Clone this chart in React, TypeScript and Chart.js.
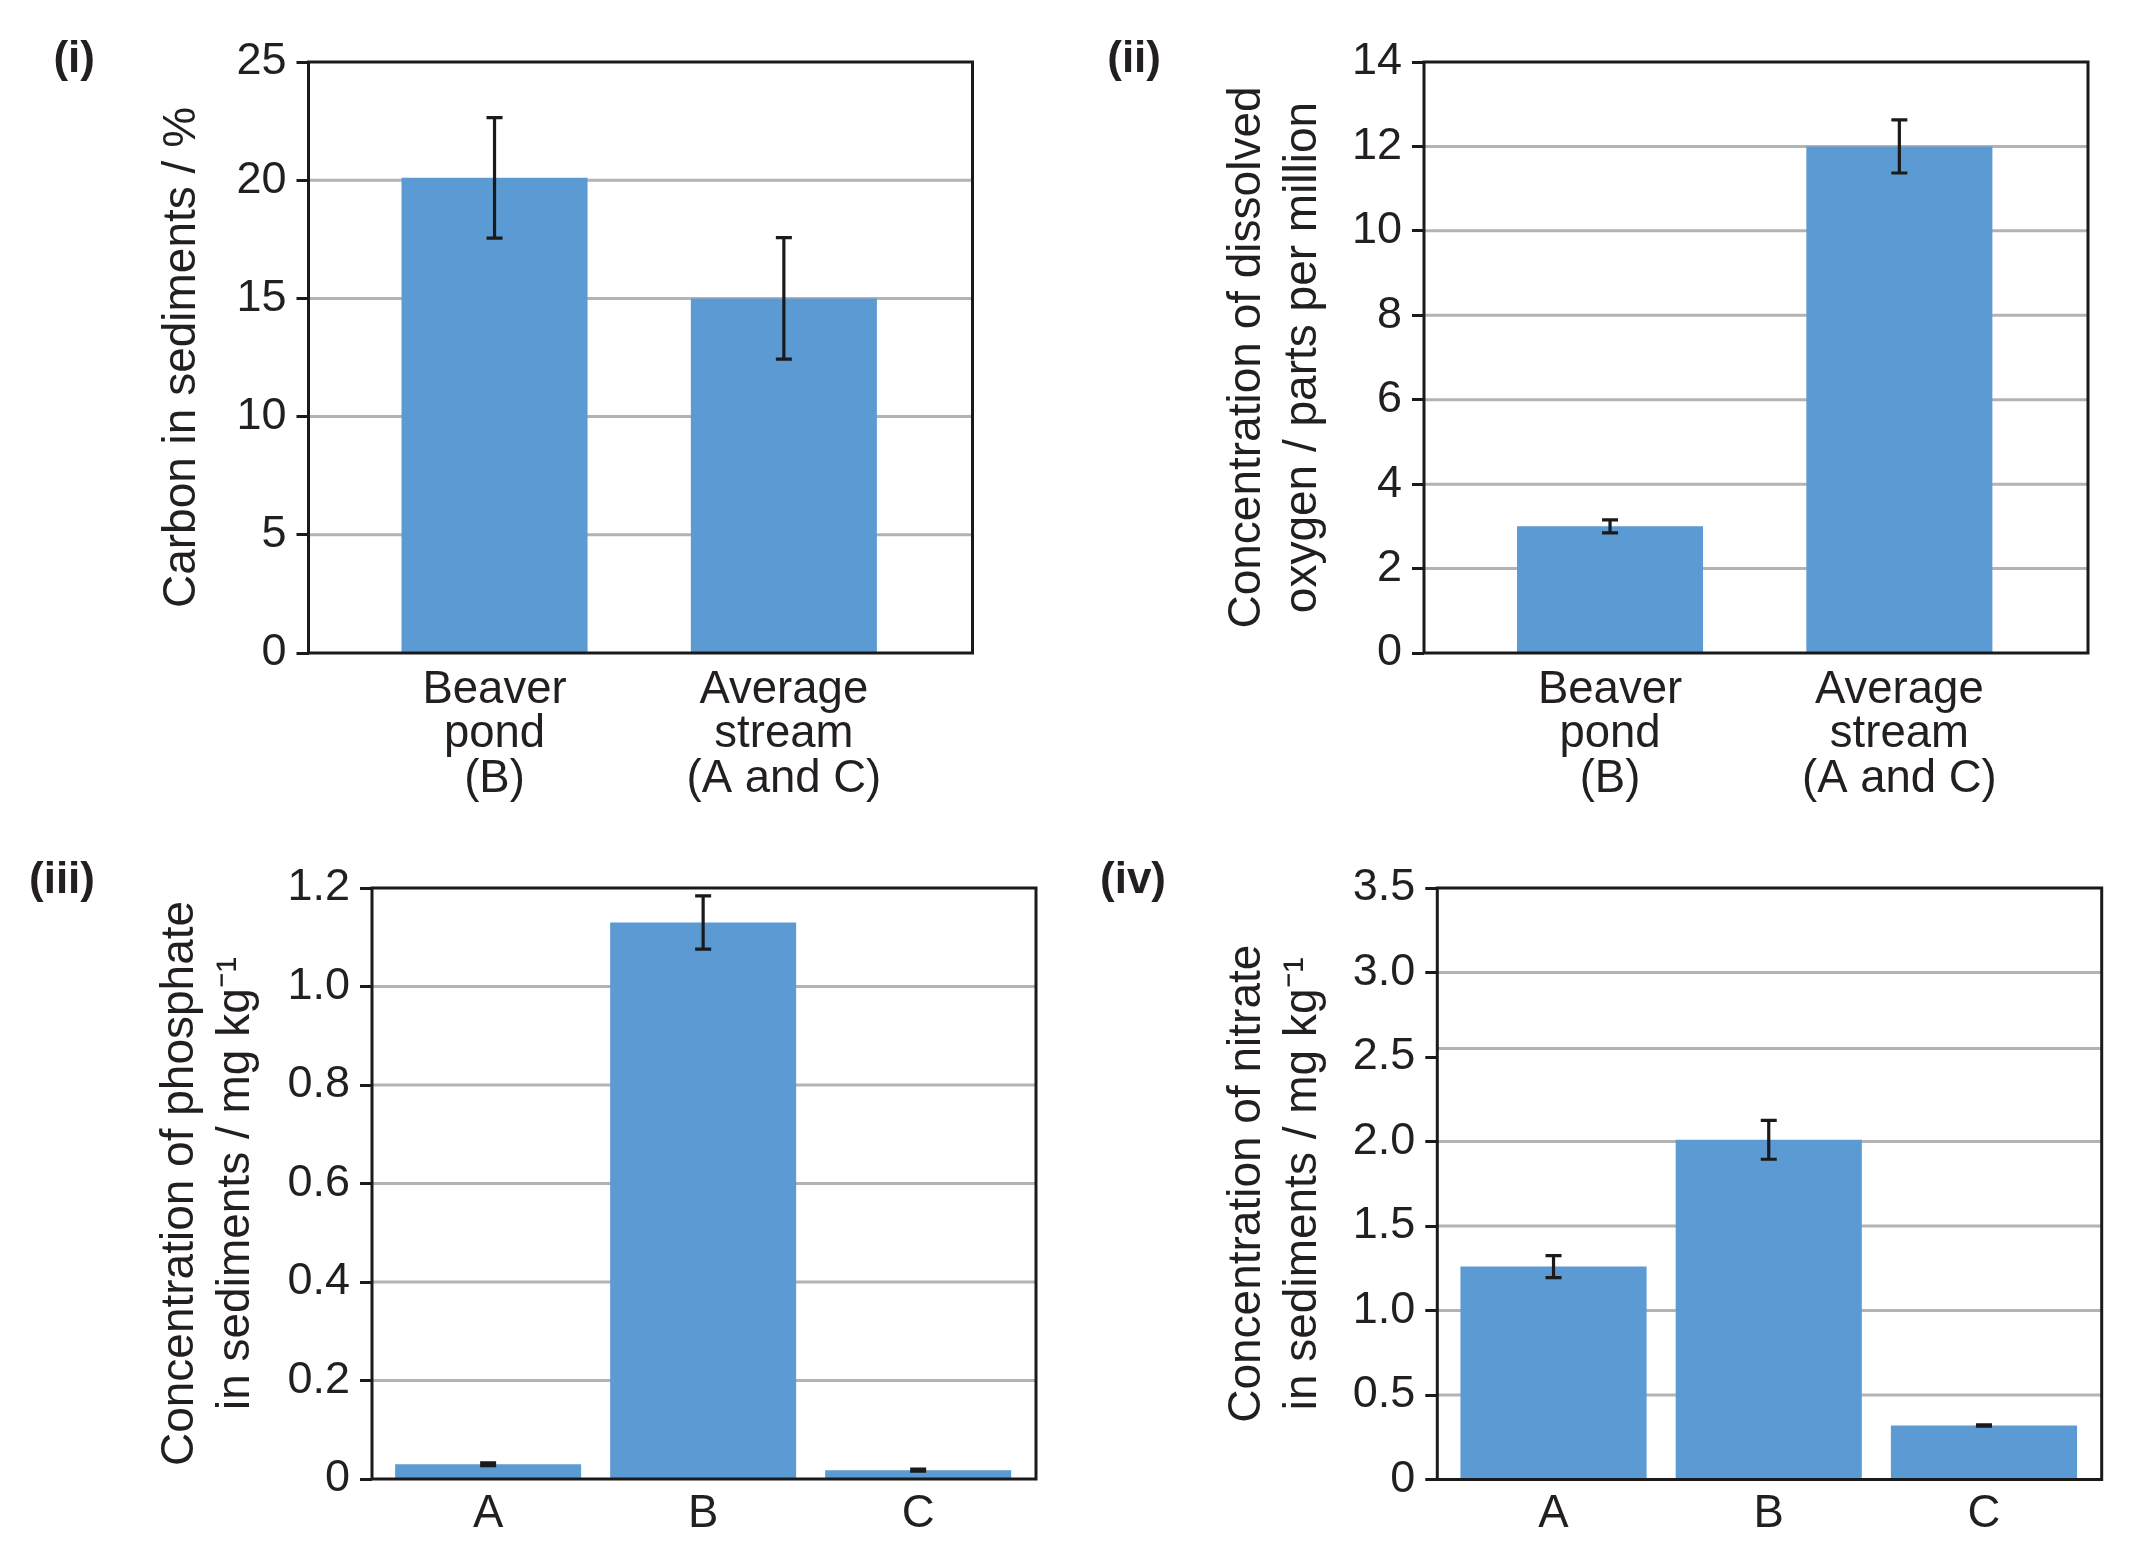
import React, { useEffect, useRef } from 'react';
import { Chart, registerables } from 'chart.js';

Chart.register(...registerables);

// ---------------- data ----------------
const streamCategories: string[][] = [
  ['Beaver', 'pond', '(B)'],
  ['Average', 'stream', '(A and C)'],
];
const carbonValues = [20.1, 15.0];
const carbonErrors = [2.55, 2.57];

const oxygenValues = [3.0, 12.0];
const oxygenErrors = [0.155, 0.63];

const siteCategories = ['A', 'B', 'C'];
const phosphateValues = [0.03, 1.13, 0.018];
const phosphateErrors = [0.003, 0.054, 0.002];

const nitrateValues = [1.26, 2.01, 0.32];
const nitrateErrors = [0.065, 0.115, 0.004];
const nitrateGridValues = [0.5, 1.0, 1.5, 2.0, 2.55, 3.0];

// ---------------- style ----------------
const FONT = "'Liberation Sans', Arial, Helvetica, sans-serif";
const BAR = '#5B9AD3';
const GRID = '#b3b3b3';
const INK = '#1a1a1a';
const TEXT = '#231f20';

type Spec = {
  key: string;
  panelLabel: string;
  labelRight: number;
  labelTop: number;
  box: { left: number; top: number; width: number; height: number };
  pad: { left: number; right: number; top: number; bottom: number };
  yWidth: number;
  xHeight: number;
  titlePad: number;
  xPad: number;
  categories: (string | string[])[];
  values: number[];
  errors: number[];
  yMax: number;
  yStep: number;
  xMin: number;
  xMax: number;
  barFrac: number;
  title: string | string[];
  decimals: boolean;
  gridValues?: number[];
};

const specs: Spec[] = [
  {
    key: 'i', panelLabel: '(i)', labelRight: 95, labelTop: 35,
    box: { left: 0, top: 0, width: 1067, height: 820 },
    pad: { left: 108.5, right: 94.5, top: 62, bottom: 17 },
    yWidth: 200, xHeight: 150, titlePad: 45.5, xPad: 15,
    categories: streamCategories, values: carbonValues, errors: carbonErrors,
    yMax: 25, yStep: 5, xMin: -0.643, xMax: 1.652, barFrac: 0.643,
    title: 'Carbon in sediments / %', decimals: false,
  },
  {
    key: 'ii', panelLabel: '(ii)', labelRight: 1161, labelTop: 35,
    box: { left: 1067, top: 0, width: 1067, height: 820 },
    pad: { left: 77, right: 46, top: 62, bottom: 17 },
    yWidth: 280, xHeight: 150, titlePad: 75.2, xPad: 15,
    categories: streamCategories, values: oxygenValues, errors: oxygenErrors,
    yMax: 14, yStep: 2, xMin: -0.643, xMax: 1.652, barFrac: 0.643,
    title: ['Concentration of dissolved', 'oxygen / parts per million'], decimals: false,
  },
  {
    key: 'iii', panelLabel: '(iii)', labelRight: 95, labelTop: 856,
    box: { left: 0, top: 820, width: 1067, height: 747 },
    pad: { left: 92, right: 31, top: 68, bottom: 8 },
    yWidth: 280, xHeight: 80, titlePad: 60, xPad: 13,
    categories: siteCategories, values: phosphateValues, errors: phosphateErrors,
    yMax: 1.2, yStep: 0.2, xMin: -0.54, xMax: 2.548, barFrac: 0.865,
    title: ['Concentration of phosphate', 'in sediments / mg kg\u207B\u00B9'], decimals: true,
  },
  {
    key: 'iv', panelLabel: '(iv)', labelRight: 1166, labelTop: 856,
    box: { left: 1067, top: 820, width: 1067, height: 747 },
    pad: { left: 90.3, right: 32.3, top: 68, bottom: 7.5 },
    yWidth: 280, xHeight: 80, titlePad: 62, xPad: 13,
    categories: siteCategories, values: nitrateValues, errors: nitrateErrors,
    yMax: 3.5, yStep: 0.5, xMin: -0.54, xMax: 2.547, barFrac: 0.865,
    title: ['Concentration of nitrate', 'in sediments / mg kg\u207B\u00B9'], decimals: true,
    gridValues: nitrateGridValues,
  },
];

function Panel({ spec }: { spec: Spec }) {
  const ref = useRef<HTMLCanvasElement | null>(null);

  useEffect(() => {
    const canvas = ref.current;
    if (!canvas) return;

    const overlay = {
      id: 'overlay_' + spec.key,
      beforeDatasetsDraw(chart: any) {
        const { ctx, chartArea: a, scales } = chart;
        const y = scales.y;
        const vals: number[] = spec.gridValues
          ? spec.gridValues
          : y.ticks.map((t: any) => t.value).filter((v: number) => v > y.min + 1e-9 && v < y.max - 1e-9);
        ctx.save();
        ctx.strokeStyle = GRID;
        ctx.lineWidth = 3;
        vals.forEach((v) => {
          const py = y.getPixelForValue(v);
          ctx.beginPath();
          ctx.moveTo(a.left, py);
          ctx.lineTo(a.right, py);
          ctx.stroke();
        });
        ctx.restore();
      },
      afterDatasetsDraw(chart: any) {
        const { ctx, chartArea: a, scales } = chart;
        const x = scales.x;
        const y = scales.y;
        ctx.save();
        ctx.strokeStyle = INK;
        ctx.lineWidth = 3.2;
        spec.values.forEach((v, i) => {
          const e = spec.errors[i];
          const px = x.getPixelForValue(i);
          const pt = y.getPixelForValue(v + e);
          const pb = y.getPixelForValue(v - e);
          ctx.beginPath();
          ctx.moveTo(px, pt);
          ctx.lineTo(px, pb);
          ctx.moveTo(px - 8, pt);
          ctx.lineTo(px + 8, pt);
          ctx.moveTo(px - 8, pb);
          ctx.lineTo(px + 8, pb);
          ctx.stroke();
        });
        ctx.lineWidth = 3;
        ctx.strokeStyle = INK;
        ctx.strokeRect(a.left, a.top, a.right - a.left, a.bottom - a.top);
        ctx.restore();
      },
    };

    const chart = new Chart(canvas, {
      type: 'bar',
      data: {
        datasets: [
          {
            data: spec.values.map((v, i) => ({ x: i, y: v })) as any,
            backgroundColor: BAR,
            borderWidth: 0,
            categoryPercentage: 1,
            barPercentage: spec.barFrac,
          },
        ],
      },
      options: {
        responsive: false,
        animation: false,
        devicePixelRatio: 1,
        layout: { padding: spec.pad },
        plugins: {
          legend: { display: false },
          tooltip: { enabled: false },
          title: { display: false },
        },
        scales: {
          x: {
            type: 'linear',
            offset: false,
            min: spec.xMin,
            max: spec.xMax,
            grid: { display: false, drawTicks: false, offset: false },
            border: { display: false },
            afterBuildTicks: (s: any) => {
              s.ticks = spec.categories.map((_, i) => ({ value: i }));
            },
            afterFit: (s: any) => {
              s.height = spec.xHeight;
            },
            ticks: {
              autoSkip: false,
              maxRotation: 0,
              minRotation: 0,
              padding: spec.xPad,
              color: TEXT,
              font: { family: FONT, size: 45.5, lineHeight: 0.98 },
              callback: (v: any) => spec.categories[Math.round(Number(v))] as any,
            },
          },
          y: {
            type: 'linear',
            min: 0,
            max: spec.yMax,
            grid: {
              drawOnChartArea: false,
              drawTicks: true,
              tickLength: 12,
              tickWidth: 3,
              tickColor: INK,
            },
            border: { display: false },
            afterFit: (s: any) => {
              s.width = spec.yWidth;
            },
            ticks: {
              stepSize: spec.yStep,
              padding: 10,
              color: TEXT,
              font: { family: FONT, size: 45 },
              callback: (v: any) => {
                const n = Number(v);
                if (Math.abs(n) < 1e-9) return '0';
                return spec.decimals ? n.toFixed(1) : String(Math.round(n));
              },
            },
            title: {
              display: true,
              text: spec.title as any,
              color: TEXT,
              font: { family: FONT, size: 46, lineHeight: 1.22 },
              padding: { top: spec.titlePad, bottom: 0 },
            },
          },
        },
      } as any,
      plugins: [overlay],
    });

    return () => {
      chart.destroy();
    };
  }, [spec]);

  return (
    <canvas
      ref={ref}
      width={spec.box.width}
      height={spec.box.height}
      style={{
        position: 'absolute',
        left: spec.box.left,
        top: spec.box.top,
        width: spec.box.width,
        height: spec.box.height,
      }}
    />
  );
}

export default function App() {
  return (
    <div
      style={{
        position: 'absolute',
        left: 0,
        top: 0,
        width: 2134,
        height: 1567,
        background: '#ffffff',
        overflow: 'hidden',
      }}
    >
      {specs.map((s) => (
        <Panel key={s.key} spec={s} />
      ))}
      {specs.map((s) => (
        <div
          key={'lbl' + s.key}
          style={{
            position: 'absolute',
            left: s.labelRight - 200,
            width: 200,
            top: s.labelTop,
            textAlign: 'right',
            fontFamily: FONT,
            fontWeight: 'bold',
            fontSize: 44,
            lineHeight: '44px',
            color: TEXT,
          }}
        >
          {s.panelLabel}
        </div>
      ))}
    </div>
  );
}
